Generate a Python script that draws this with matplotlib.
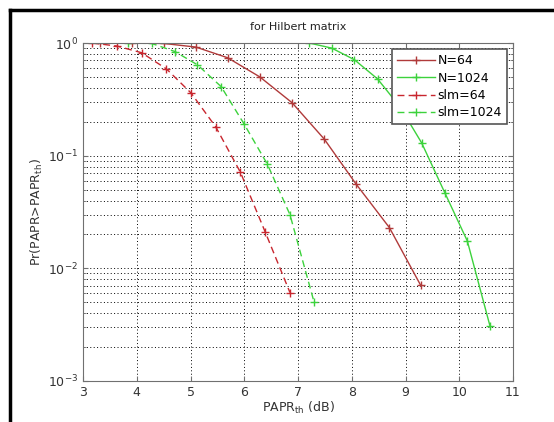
import matplotlib
matplotlib.use("Agg")
import matplotlib.pyplot as plt
from matplotlib.lines import Line2D
import numpy as np

# data
x_n64 = [3.32, 3.91, 4.51, 5.10, 5.69, 6.29, 6.89, 7.49, 8.08, 8.70, 9.28]
y_n64 = [1.0, 1.0, 0.99, 0.92, 0.74, 0.50, 0.295, 0.14, 0.056, 0.023, 0.0071]

x_n1024 = [7.21, 7.63, 8.05, 8.48, 8.90, 9.30, 9.73, 10.15, 10.57]
y_n1024 = [1.0, 0.90, 0.71, 0.48, 0.27, 0.13, 0.047, 0.0175, 0.0031]

x_slm64 = [3.17, 3.63, 4.09, 4.55, 5.01, 5.47, 5.93, 6.39, 6.85]
y_slm64 = [1.0, 0.94, 0.82, 0.59, 0.36, 0.18, 0.071, 0.021, 0.0061]

x_slm1024 = [3.83, 4.28, 4.71, 5.13, 5.57, 6.00, 6.43, 6.85, 7.30]
y_slm1024 = [1.0, 0.99, 0.84, 0.64, 0.41, 0.19, 0.084, 0.030, 0.005]

dark_red = '#b03a3a'
red = '#c8262e'
green = '#3cd23c'

fig = plt.figure(figsize=(5.54, 4.22), dpi=100)
ax = fig.add_axes([83/554, 1-381/422, 430/554, 338/422])

ax.semilogy(x_n64, y_n64, '-', color=dark_red, marker='+', ms=6, mew=1, lw=1, label='N=64')
ax.semilogy(x_n1024, y_n1024, '-', color=green, marker='+', ms=6, mew=1, lw=1, label='N=1024')
ax.semilogy(x_slm64, y_slm64, '--', color=red, marker='+', ms=6, mew=1, lw=1,
            dashes=(5, 3), label='slm=64')
ax.semilogy(x_slm1024, y_slm1024, '--', color=green, marker='+', ms=6, mew=1, lw=1,
            dashes=(5, 3), label='slm=1024')

ax.set_xlim(3, 11)
ax.set_ylim(1e-3, 1)
ax.set_xticks(range(3, 12))
ax.grid(which='major', linestyle=(0, (1, 2.5)), color='black', lw=0.7)
ax.grid(which='minor', axis='y', linestyle=(0, (1, 2.5)), color='black', lw=0.7)

for s in ax.spines.values():
    s.set_color('#707070')
ax.tick_params(which='both', direction='in', colors='#707070', labelcolor='#333333',
               labelsize=9, top=True, right=True)

ax.set_xlabel('PAPR$_{\\rm th}$ (dB)', fontsize=9, color='#333333', labelpad=1)
ax.set_ylabel('Pr(PAPR>PAPR$_{\\rm th}$)', fontsize=9, color='#333333', labelpad=2)
ax.set_title('for Hilbert matrix', fontsize=8, color='#222222', pad=9)

leg = ax.legend(loc='upper right', fontsize=9, fancybox=False, framealpha=1,
                edgecolor='#555555', handlelength=3, borderaxespad=0.5,
                labelspacing=0.35, handletextpad=0.2)
leg.get_frame().set_linewidth(1.2)

# black frame around the picture
fig.add_artist(Line2D([10/554, 1], [1-10/422, 1-10/422], color='black', lw=2.5))
fig.add_artist(Line2D([10/554, 10/554], [0, 1-10/422], color='black', lw=2.5))

fig.savefig('out.png', dpi=100)
